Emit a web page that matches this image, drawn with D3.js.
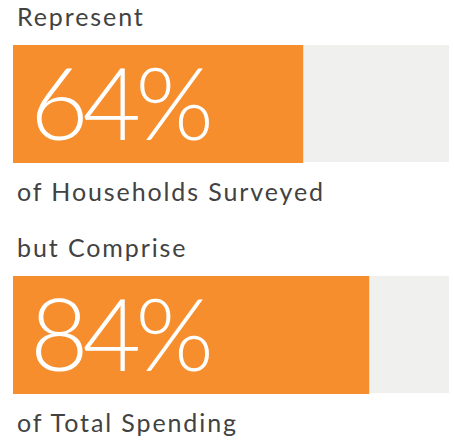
<!DOCTYPE html>
<html>
<head>
<meta charset="utf-8">
<script src="https://cdn.jsdelivr.net/npm/d3@7"></script>
<style>
  html, body { margin: 0; padding: 0; background: #fff; }
</style>
</head>
<body>
<div id="chart"></div>
<script>
// text above / big value / text below, one entry per row
var labelsAbove = ["Represent", "but Comprise"];
var values = [64, 84];
var labelsBelow = ["of Households Surveyed", "of Total Spending"];

var width = 454, height = 446;

var svg = d3.select("#chart")
  .append("svg")
    .attr("width", width)
    .attr("height", height);

// one row per value
var rowY = d3.scalePoint()
  .domain(d3.range(values.length))
  .range([0, 231]);

// bar length for a percent
var xBar = d3.scaleLinear()
  .domain([0, 100])
  .range([79, 409]);

var rows = svg.selectAll("g.row")
  .data(values)
  .enter()
  .append("g")
    .attr("class", "row")
    .attr("transform", function(d, i) { return "translate(0," + rowY(i) + ")"; });

// grey track
rows.append("rect")
  .attr("x", 14)
  .attr("y", 45)
  .attr("width", 435)
  .attr("height", 117)
  .attr("fill", "#f0f0ee");

// orange value bar
rows.append("rect")
  .attr("x", 13)
  .attr("y", 45)
  .attr("width", function(d) { return xBar(d); })
  .attr("height", 118)
  .attr("fill", "#f68e2d");

rows.append("text")
  .attr("x", 30)
  .attr("y", 140)
  .text(function(d) { return d + "%"; })
  .style("font-family", "Lato, 'Open Sans', sans-serif")
  .style("font-weight", 300)
  .style("font-size", "101px")
  .style("letter-spacing", "-6px")
  .style("fill", "#fff");

rows.append("text")
  .attr("x", 17)
  .attr("y", 26)
  .text(function(d, i) { return labelsAbove[i]; })
  .style("font-family", "Lato, 'Open Sans', sans-serif")
  .style("font-size", "25px")
  .style("letter-spacing", "1.9px")
  .style("fill", "#424242");

rows.append("text")
  .attr("x", 17)
  .attr("y", 201)
  .text(function(d, i) { return labelsBelow[i]; })
  .style("font-family", "Lato, 'Open Sans', sans-serif")
  .style("font-size", "25px")
  .style("letter-spacing", "1.9px")
  .style("fill", "#424242");
</script>
</body>
</html>
